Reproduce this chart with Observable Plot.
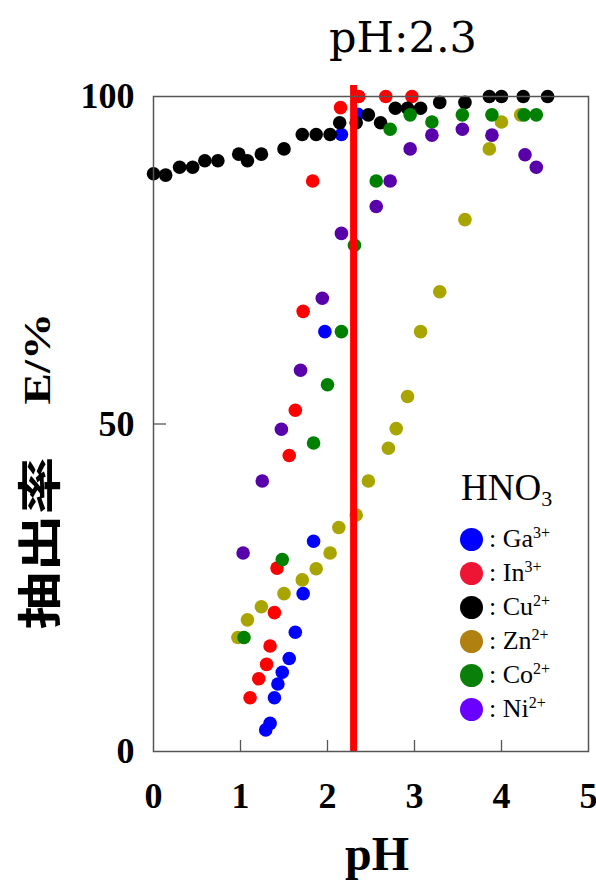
<!DOCTYPE html>
<html>
<head>
<meta charset="utf-8">
<script src="https://cdn.jsdelivr.net/npm/d3@7"></script>
<script src="https://cdn.jsdelivr.net/npm/@observablehq/plot@0.6"></script>
<style>
  html, body { margin: 0; padding: 0; background: #fff; }
  #wrap { position: relative; width: 596px; height: 881px; overflow: hidden; }
  #wrap svg { position: absolute; left: 0; top: 0; }
  .serif, .serif * { font-family: "Liberation Serif", "Times New Roman", serif; color: #000; }
  #title { position: absolute; left: 403px; top: 16px; transform: translateX(-50%);
           font-family: "DejaVu Serif", serif; font-size: 43px; line-height: 43px; white-space: nowrap; }
  #xlabel { position: absolute; left: 377px; top: 830px; transform: translateX(-50%);
            font-size: 48px; line-height: 48px; font-weight: bold; white-space: nowrap; }
  #ylabel { position: absolute; left: 37px; top: 471px; transform: translate(-50%, -50%) rotate(-90deg);
            display: flex; align-items: center; white-space: nowrap; }
  #ylabel .cjk { display: inline-block; width: 173px; height: 46px; overflow: visible; }
  #ylabel .cjk span { display: inline-block; font-family: "Noto Sans CJK JP", sans-serif; font-weight: 700;
            font-size: 44px; line-height: 46px; transform: scaleX(1.31); transform-origin: left center; }
  #ylabel .gap { display: inline-block; width: 52px; }
  #ylabel .unit { display: inline-block; width: 92px; height: 46px; }
  #ylabel .unit span { display: inline-block; font-family: "Liberation Serif", serif; font-weight: bold;
            font-size: 38px; line-height: 46px; transform: scaleX(1.24); transform-origin: left center; }
  #legend { position: absolute; left: 460px; top: 470px; }
  #legend .head { font-size: 37px; line-height: 36px; margin-left: 1px; margin-bottom: 16px; }
  #legend .head sub { font-size: 22px; vertical-align: -6px; line-height: 0; }
  #legend .row { display: flex; align-items: center; height: 34px; }
  #legend .sw { width: 23px; height: 23px; border-radius: 50%; margin-left: 0px; margin-right: 6px; }
  #legend .lab { font-size: 26px; line-height: 26px; }
  #legend .lab sup { font-size: 16px; vertical-align: 9px; line-height: 0; }
</style>
</head>
<body>
<div id="wrap">
  <div id="title">pH:2.3</div>
  <div id="ylabel"><span class="cjk"><span>抽出率</span></span><span class="gap"></span><span class="unit"><span>E/%</span></span></div>
  <div id="xlabel" class="serif">pH</div>
  <div id="legend" class="serif"></div>
</div>
<script>
// Extraction percentage E (%) versus equilibrium pH, HNO3 medium
const metals = ["Ga", "In", "Cu", "Zn", "Co", "Ni"];
const charges = ["3+", "3+", "2+", "2+", "2+", "2+"];
const dotColors = ["#0000ff", "#ff0000", "#000000", "#a9a500", "#008000", "#5800aa"];
const keyColors = ["#0000ff", "#ee1434", "#000000", "#b08010", "#0a800a", "#6a00ff"];

const pHGa = [1.29, 1.34, 1.39, 1.43, 1.48, 1.56, 1.63, 1.72, 1.84, 1.97, 2.16, 2.35];
const eGa  = [3.3, 4.3, 8.2, 10.3, 12.1, 14.2, 18.2, 24.1, 32.1, 64.1, 94.2, 97.3];

const pHIn = [1.11, 1.21, 1.30, 1.34, 1.39, 1.42, 1.56, 1.63, 1.72, 1.83, 2.15, 2.36, 2.67, 2.97];
const eIn  = [8.2, 11.1, 13.3, 16.1, 21.2, 28.0, 45.2, 52.1, 67.2, 87.1, 98.3, 100, 100, 100];

const pHCu = [0.00, 0.14, 0.30, 0.45, 0.59, 0.74, 0.98, 1.08, 1.24, 1.50, 1.71, 1.87, 2.03,
              2.14, 2.33, 2.47, 2.61, 2.78, 2.92, 3.07, 3.29, 3.58, 3.86, 4.00, 4.25, 4.53];
const eCu  = [88.2, 88.0, 89.2, 89.2, 90.2, 90.2, 91.2, 90.2, 91.2, 92.0, 94.2, 94.2, 94.2,
              96.0, 96.0, 97.2, 96.0, 98.2, 98.2, 98.2, 99.1, 99.1, 100, 100, 100, 100];

const pHZn = [0.97, 1.08, 1.24, 1.50, 1.71, 1.87, 2.03, 2.13, 2.33, 2.47, 2.70, 2.79, 2.92,
              3.07, 3.29, 3.58, 3.86, 4.00, 4.22];
const eZn  = [17.4, 20.1, 22.1, 24.1, 26.2, 27.9, 30.3, 34.2, 36.1, 41.3, 46.3, 49.3, 54.2,
              64.1, 70.2, 81.2, 92.0, 96.1, 97.2];

const pHCo = [1.04, 1.48, 1.84, 2.00, 2.16, 2.31, 2.56, 2.72, 2.95, 3.20, 3.55, 3.89, 4.26, 4.40];
const eCo  = [17.4, 29.3, 47.1, 56.0, 64.1, 77.3, 87.1, 95.0, 97.2, 96.1, 97.2, 97.2, 97.2, 97.2];

const pHNi = [1.03, 1.25, 1.47, 1.69, 1.94, 2.16, 2.56, 2.72, 2.95, 3.20, 3.55, 3.89, 4.27, 4.40];
const eNi  = [30.3, 41.3, 49.2, 58.2, 69.2, 79.1, 83.2, 87.1, 92.0, 94.1, 95.0, 94.1, 91.1, 89.2];

const xTicks = [0, 1, 2, 3, 4, 5];
const yTicks = [0, 50, 100];
const innerXTicks = [1, 2, 3, 4];
const innerYTicks = [50];
const selectedPH = 2.3;

const series = [[pHGa, eGa], [pHIn, eIn], [pHCu, eCu], [pHZn, eZn], [pHCo, eCo], [pHNi, eNi]];
const rows = series.flatMap(([ph, e], i) => ph.map((p, j) => ({metal: metals[i], pH: p, E: e[j]})));

const W = 596, H = 881;
const mL = 153, mR = 8, mT = 96, mB = 130;
const innerH = H - mT - mB, innerW = W - mL - mR;
const tickFont = {fontSize: 36, fontWeight: "bold", fontFamily: "Liberation Serif, Times New Roman, serif"};

const chart = Plot.plot({
  width: W, height: H,
  marginLeft: mL, marginRight: mR, marginTop: mT, marginBottom: mB,
  style: {background: "transparent", color: "#000", overflow: "visible"},
  x: {domain: [0, 5]},
  y: {domain: [0, 100]},
  color: {domain: metals, range: dotColors},
  marks: [
    Plot.axisX(xTicks, {tickSize: 0, tickPadding: 31, label: null, tickFormat: d3.format("d"), ...tickFont, fill: "#000"}),
    Plot.axisY(yTicks, {tickSize: 0, tickPadding: 19, label: null, tickFormat: d3.format("d"), ...tickFont, fill: "#000"}),
    Plot.ruleX(innerXTicks, {insetTop: innerH - 11, stroke: "#555", strokeWidth: 1.3}),
    Plot.ruleY(innerYTicks, {insetRight: innerW - 13, stroke: "#555", strokeWidth: 1.3}),
    Plot.dot(rows, {x: "pH", y: "E", fill: "metal", r: 6.8, stroke: null}),
    Plot.ruleX([selectedPH], {stroke: "#ff0000", strokeWidth: 7, insetTop: -11}),
    Plot.frame({stroke: "#555", strokeWidth: 1.5})
  ]
});
document.getElementById("wrap").prepend(chart);

// key: swatch + ion label
const legend = document.getElementById("legend");
legend.innerHTML = `<div class="head">HNO<sub>3</sub></div>` +
  metals.map((m, i) =>
    `<div class="row"><div class="sw" style="background:${keyColors[i]}"></div>` +
    `<div class="lab">: ${m}<sup>${charges[i]}</sup></div></div>`).join("");
</script>
</body>
</html>
